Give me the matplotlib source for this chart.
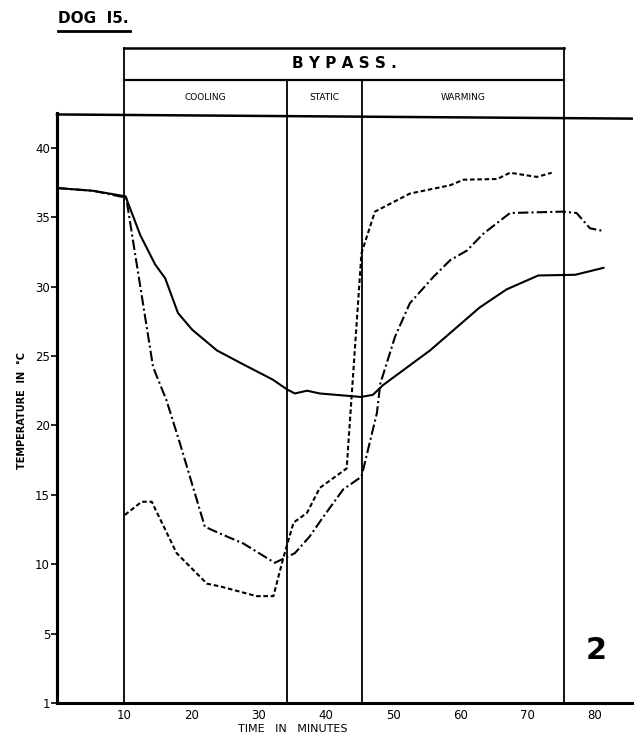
import matplotlib
matplotlib.use("Agg")
import matplotlib.pyplot as plt
from matplotlib.lines import Line2D

# solid curve
t_solid = [0, 5.4, 10.2, 12.4, 14.6, 16.1, 18.0, 20.1, 23.8, 27.7, 32.1, 34.2, 35.4,
           37.2, 39.1, 45.2, 47.0, 48.5, 55.5, 62.9, 66.9, 71.6, 77.1, 81.3]
T_solid = [37.1, 36.9, 36.5, 33.7, 31.6, 30.6, 28.1, 26.9, 25.4, 24.4, 23.3, 22.6, 22.3,
           22.5, 22.3, 22.05, 22.2, 22.9, 25.4, 28.5, 29.8, 30.8, 30.85, 31.35]

# dash-dot curve
t_dashdot = [0, 5.4, 10.3, 14.3, 16.3, 18.3, 22.0, 24.3, 27.7, 32.4, 33.7, 35.4, 37.6,
             39.6, 42.6, 45.3, 47.6, 48.1, 50.3, 52.5, 56.0, 58.5, 61.0, 63.4, 67.4,
             75.3, 77.3, 79.3, 81.3]
T_dashdot = [37.1, 36.9, 36.4, 24.2, 21.8, 18.7, 12.7, 12.2, 11.5, 10.1, 10.4, 10.8, 12.0,
             13.4, 15.4, 16.3, 20.9, 23.0, 26.4, 28.8, 30.7, 31.9, 32.6, 33.8, 35.3,
             35.4, 35.3, 34.2, 34.0]

# dotted curve
t_dotted = [10.1, 12.6, 14.1, 17.8, 22.3, 24.3, 29.7, 32.2, 33.7, 35.2, 37.2, 39.1, 43.1,
            45.3, 47.3, 52.5, 54.0, 58.5, 60.5, 65.5, 67.4, 71.4, 73.6]
T_dotted = [13.55, 14.5, 14.5, 10.8, 8.6, 8.4, 7.7, 7.7, 10.5, 13.0, 13.7, 15.5, 16.9,
            32.4, 35.4, 36.7, 36.85, 37.3, 37.7, 37.75, 38.2, 37.9, 38.2]

phases = [10, 34.2, 45.4, 75.5]
phase_names = ["COOLING", "STATIC", "WARMING"]
yticks = [0, 5, 10, 15, 20, 25, 30, 35, 40]
ytick_labels = ["1", "5", "10", "15", "20", "25", "30", "35", "40"]
xticks = [10, 20, 30, 40, 50, 60, 70, 80]

fig = plt.figure(figsize=(6.4, 7.35), dpi=100)
ax = fig.add_axes([0.089, 0.0435, 0.898, 0.797])
ax.set_xlim(0, 85.5)
ax.set_ylim(0, 42.2)

for s in ["right", "top"]:
    ax.spines[s].set_visible(False)
ax.spines["left"].set_linewidth(2.2)
ax.spines["bottom"].set_linewidth(2.2)

ax.plot(t_solid, T_solid, color="black", lw=1.5, solid_joinstyle="round")
ax.plot(t_dashdot, T_dashdot, color="black", lw=1.5, linestyle=(0, (5, 1.5, 1, 1.5)))
ax.plot(t_dotted, T_dotted, color="black", lw=1.5, linestyle=(0, (2.2, 1.3)))

# header box and phase lines
top_line = 42.2
mid = 44.9
box_top = 47.2
ax.plot([0, 85.5], [top_line + 0.2, top_line - 0.1], color="black", lw=1.8, clip_on=False)
ax.plot([0, 0], [0, top_line + 0.3], color="black", lw=2.2, clip_on=False)
for p in phases:
    h = box_top if p in (phases[0], phases[-1]) else mid
    ax.plot([p, p], [0, h], color="black", lw=1.3, clip_on=False)
ax.plot([phases[0], phases[-1]], [box_top, box_top], color="black", lw=1.8, clip_on=False)
ax.plot([phases[0], phases[-1]], [mid, mid], color="black", lw=1.6, clip_on=False)
ax.text((phases[0] + phases[-1]) / 2, (box_top + mid) / 2, "B Y P A S S .", ha="center",
        va="center", fontsize=11, fontweight="bold", clip_on=False)
for i, name in enumerate(phase_names):
    ax.text((phases[i] + phases[i + 1]) / 2, (mid + top_line) / 2 + 0.1, name, ha="center",
            va="center", fontsize=6.5, clip_on=False)

ax.set_yticks(yticks)
ax.set_yticklabels(ytick_labels, fontsize=8.5)
ax.set_xticks(xticks)
ax.set_xticklabels([str(x) for x in xticks], fontsize=8.5)
ax.tick_params(axis="y", direction="out", length=4, width=1.2, pad=1)
ax.tick_params(axis="x", length=0, pad=4)

ax.set_ylabel("TEMPERATURE  IN  °C", fontsize=7, fontweight="bold", labelpad=6)
ax.set_xlabel("TIME   IN   MINUTES", fontsize=8, labelpad=0)
ax.xaxis.set_label_coords(0.41, -0.035)

ax.text(80.2, 3.8, "2", fontsize=22, fontweight="bold", ha="center", va="center")

fig.text(0.091, 0.975, "DOG  I5.", fontsize=11, fontweight="bold", ha="left", va="center")
fig.add_artist(Line2D([0.091, 0.203], [0.958, 0.958], color="black", lw=2,
                      transform=fig.transFigure))

plt.savefig("out.png", dpi=100)
